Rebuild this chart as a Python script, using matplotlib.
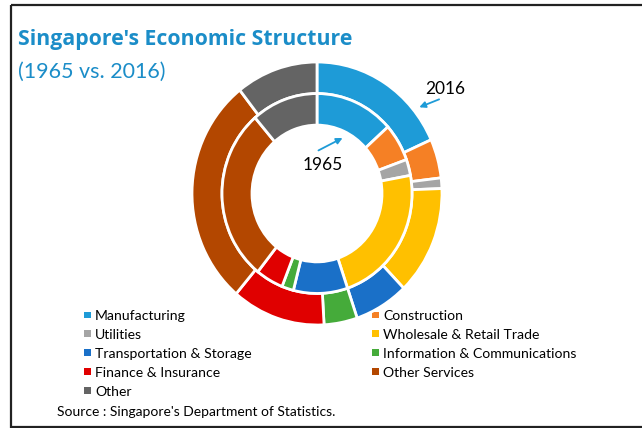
import matplotlib
matplotlib.use("Agg")
import matplotlib.pyplot as plt
from matplotlib.patches import Rectangle

# ---- data ----
categories = ["Manufacturing", "Construction", "Utilities", "Wholesale & Retail Trade",
              "Transportation & Storage", "Information & Communications",
              "Finance & Insurance", "Other Services", "Other"]
share_2016 = [18.3, 4.8, 1.3, 13.4, 7.0, 4.3, 12.1, 28.2, 10.6]
share_1965 = [13.4, 6.1, 2.6, 22.7, 9.2, 2.0, 4.7, 28.0, 11.3]
colors = ["#1E9BD7", "#F58025", "#A5A5A5", "#FFC000", "#1A70C8",
          "#45AB3A", "#E00000", "#B34700", "#646464"]
title = "Singapore's Economic Structure"
subtitle = "(1965 vs. 2016)"
source = "Source : Singapore's Department of Statistics."

FONT = "Lato"
W, H = 642, 428
fig = plt.figure(figsize=(W / 100, H / 100), dpi=100)

# overlay axes in pixel coordinates
ov = fig.add_axes([0, 0, 1, 1])
ov.set_xlim(0, W)
ov.set_ylim(H, 0)
ov.axis("off")

# donut axes
x0, x1, y0, y1 = 192, 442, 62, 325
ax = fig.add_axes([x0 / W, 1 - y1 / H, (x1 - x0) / W, (y1 - y0) / H])
ax.pie(share_2016, colors=colors, radius=1.0, startangle=90, counterclock=False,
       wedgeprops=dict(width=0.24, edgecolor="white", linewidth=2))
ax.pie(share_1965, colors=colors, radius=0.76, startangle=90, counterclock=False,
       wedgeprops=dict(width=0.24, edgecolor="white", linewidth=2))
ax.set_aspect("auto")
ax.set_xlim(-1, 1)
ax.set_ylim(-1, 1)
ax.axis("off")

# border
ov.add_patch(Rectangle((10.5, 4.5), 700, 422.5, fill=False, edgecolor="#222222", lw=1.6))

# titles
tcol = "#1B8DC8"
ov.text(18, 45, title, fontsize=15.3, fontweight="bold", color=tcol, family="Open Sans", va="baseline")
ov.text(18, 78, subtitle, fontsize=15.5, color=tcol, family=FONT, va="baseline")

# annotations
ov.text(445, 89, "2016", fontsize=12.5, family=FONT, ha="center", va="center")
ov.annotate("", xy=(416.7, 108.3), xytext=(441.7, 98.3),
            arrowprops=dict(arrowstyle="-|>", color="#1E9BD7", lw=1.3, mutation_scale=9))
ov.text(323, 165, "1965", fontsize=12.5, family=FONT, ha="center", va="center")
ov.annotate("", xy=(345, 136.7), xytext=(316, 151.7),
            arrowprops=dict(arrowstyle="-|>", color="#1E9BD7", lw=1.3, mutation_scale=9))

# legend (row-wise, two columns)
col_x = [87, 375]
row_y0, row_dy = 320, 18.9
for i, (lab, c) in enumerate(zip(categories, colors)):
    r, cc = divmod(i, 2)
    yb = row_y0 + r * row_dy
    ov.add_patch(Rectangle((col_x[cc] - 3, yb - 8.5), 6.5, 6.5, color=c, lw=0))
    ov.text(col_x[cc] + 8, yb, lab, fontsize=10.1, family=FONT, va="baseline")

ov.text(57, 416, source, fontsize=10, family=FONT, va="baseline")

fig.savefig("out.png", dpi=100)
